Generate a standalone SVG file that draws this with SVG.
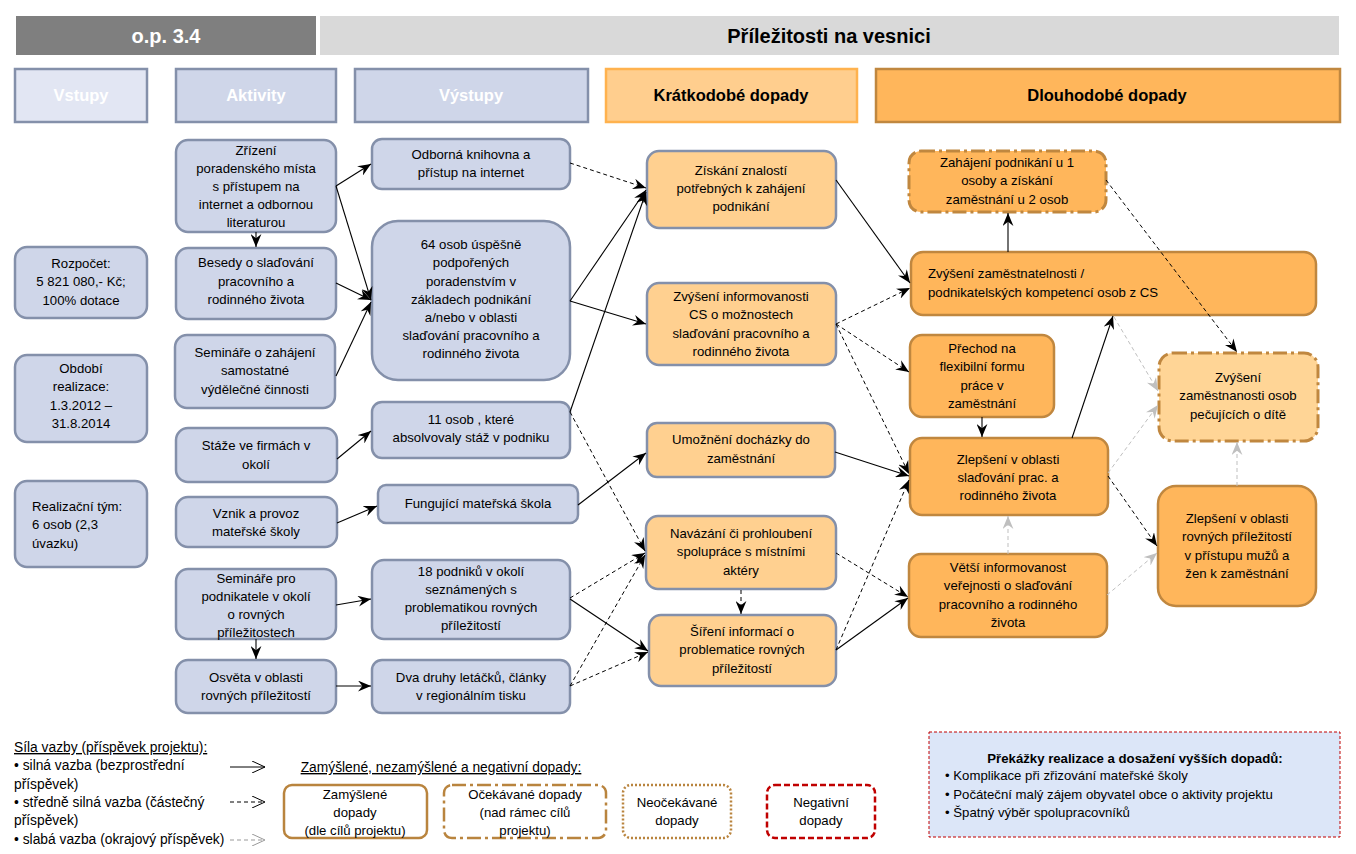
<svg xmlns="http://www.w3.org/2000/svg" width="1356" height="854" viewBox="0 0 1356 854">
<defs>
<style>
text{font-family:"Liberation Sans",Arial,sans-serif;font-size:13.2px;fill:#000}
.hd{font-weight:bold;font-size:16.5px;fill:#fff}
.hk{font-weight:bold;font-size:16.5px;fill:#000}
.tt{font-weight:bold;font-size:20px}
.m{text-anchor:middle}
.act{fill:#CFD6E9;stroke:#8490AA;stroke-width:2.5}
.st{fill:#FFD090;stroke:#8490AA;stroke-width:2.5}
.lt{fill:#FFB65B;stroke:#C0873F;stroke-width:2.5}
.ltx{fill:#FFB65B;stroke:#C0873F;stroke-width:3;stroke-dasharray:14,4,3,4}
.lt2{fill:#FFD596;stroke:#C0873F;stroke-width:3;stroke-dasharray:14,4,3,4}
.s{stroke:#000;stroke-width:1.1;fill:none;marker-end:url(#ah)}
.d{stroke:#000;stroke-width:1;fill:none;stroke-dasharray:4,3;marker-end:url(#ah)}
.w{stroke:#BFBFBF;stroke-width:1;fill:none;stroke-dasharray:4,3;marker-end:url(#ahg)}
.lg{font-size:13.8px}
</style>
<marker id="ah" viewBox="0 0 12 10" refX="12" refY="5" markerWidth="13" markerHeight="11" markerUnits="userSpaceOnUse" orient="auto"><path d="M0,0 L12,5 L0,10 L4,5 z" fill="#000"/></marker>
<marker id="ahg" viewBox="0 0 12 10" refX="12" refY="5" markerWidth="13" markerHeight="11" markerUnits="userSpaceOnUse" orient="auto"><path d="M0,0 L12,5 L0,10 L4,5 z" fill="#BFBFBF"/></marker>
<marker id="ov" viewBox="0 0 14 12" refX="13" refY="6" markerWidth="14" markerHeight="12" markerUnits="userSpaceOnUse" orient="auto"><path d="M0,0 L13,6 L0,12" fill="none" stroke="#000" stroke-width="1"/></marker>
<marker id="ovg" viewBox="0 0 14 12" refX="13" refY="6" markerWidth="14" markerHeight="12" markerUnits="userSpaceOnUse" orient="auto"><path d="M0,0 L13,6 L0,12" fill="none" stroke="#999" stroke-width="1"/></marker>
</defs>
<rect width="1356" height="854" fill="#fff"/>

<g id="header">
<rect x="16" y="16" width="300" height="39" fill="#7F7F7F"/>
<text x="166" y="43" class="hd m" style="font-size:20px">o.p. 3.4</text>
<rect x="320" y="16" width="1019" height="39" fill="#D9D9D9"/>
<text x="829" y="43" class="tt m">Příležitosti na vesnici</text>
</g>

<g id="col-headers">
<rect x="15" y="69" width="132" height="53" fill="#E2E6F3" stroke="#8490AA" stroke-width="2.5"/>
<text x="81" y="101" class="hd m">Vstupy</text>
<rect x="176" y="69" width="160" height="53" fill="#CFD6E9" stroke="#8490AA" stroke-width="2.5"/>
<text x="256" y="101" class="hd m">Aktivity</text>
<rect x="355" y="69" width="233" height="53" fill="#CFD6E9" stroke="#8490AA" stroke-width="2.5"/>
<text x="471" y="101" class="hd m">Výstupy</text>
<rect x="606" y="69" width="251" height="53" fill="#FFCE8E" stroke="#FFB24E" stroke-width="2.5"/>
<text x="731" y="101" class="hk m">Krátkodobé dopady</text>
<rect x="876" y="69" width="464" height="53" fill="#FFB65B" stroke="#C0873F" stroke-width="2.5"/>
<text x="1107" y="101" class="hk m">Dlouhodobé dopady</text>
</g>

<g id="in1"><rect x="15" y="247" width="132" height="71" rx="12" class="act"/>
<text class="m" x="81" y="268">Rozpočet:</text><text class="m" x="81" y="286">5 821 080,- Kč;</text><text class="m" x="81" y="305">100% dotace</text></g>
<g id="in2"><rect x="15" y="355" width="132" height="87" rx="12" class="act"/>
<text class="m" x="81" y="373">Období</text><text class="m" x="81" y="391">realizace:</text><text class="m" x="81" y="410">1.3.2012  –</text><text class="m" x="81" y="428">31.8.2014</text></g>
<g id="in3"><rect x="15" y="481" width="132" height="86" rx="12" class="act"/>
<text x="32" y="511">Realizační tým:</text><text x="32" y="529">6 osob (2,3</text><text x="32" y="548">úvazku)</text></g>

<g id="a1"><rect x="176" y="140" width="160" height="92" rx="12" class="act"/>
<text class="m" x="256" y="155">Zřízení</text><text class="m" x="256" y="173">poradenského místa</text><text class="m" x="256" y="191">s přístupem na</text><text class="m" x="256" y="209">internet a odbornou</text><text class="m" x="256" y="227">literaturou</text></g>
<g id="a2"><rect x="176" y="248" width="160" height="71" rx="12" class="act"/>
<text class="m" x="256" y="267">Besedy o slaďování</text><text class="m" x="256" y="286">pracovního a</text><text class="m" x="256" y="304">rodinného života</text></g>
<g id="a3"><rect x="175" y="335" width="160" height="73" rx="12" class="act"/>
<text class="m" x="255" y="357">Semináře o zahájení</text><text class="m" x="255" y="375">samostatné</text><text class="m" x="255" y="394">výdělečné činnosti</text></g>
<g id="a4"><rect x="176" y="428" width="161" height="54" rx="12" class="act"/>
<text class="m" x="256" y="450">Stáže ve firmách v</text><text class="m" x="256" y="469">okolí</text></g>
<g id="a5"><rect x="176" y="497" width="161" height="50" rx="12" class="act"/>
<text class="m" x="256" y="518">Vznik a provoz</text><text class="m" x="256" y="536">mateřské školy</text></g>
<g id="a6"><rect x="176" y="569" width="160" height="70" rx="12" class="act"/>
<text class="m" x="256" y="583">Semináře pro</text><text class="m" x="256" y="601">podnikatele v okolí</text><text class="m" x="256" y="619">o rovných</text><text class="m" x="256" y="637">příležitostech</text></g>
<g id="a7"><rect x="176" y="660" width="160" height="53" rx="12" class="act"/>
<text class="m" x="256" y="682">Osvěta v oblasti</text><text class="m" x="256" y="700">rovných příležitostí</text></g>

<g id="o1"><rect x="372" y="139" width="198" height="50" rx="10" class="act"/>
<text class="m" x="471" y="159">Odborná knihovna a</text><text class="m" x="471" y="177">přístup na internet</text></g>
<g id="o2"><rect x="372" y="221" width="198" height="159" rx="26" class="act"/>
<text class="m" x="471" y="249">64 osob úspěšně</text><text class="m" x="471" y="267">podpořených</text><text class="m" x="471" y="286">poradenstvím v</text><text class="m" x="471" y="304">základech podnikání</text><text class="m" x="471" y="322">a/nebo v oblasti</text><text class="m" x="471" y="340">slaďování  pracovního a</text><text class="m" x="471" y="358">rodinného života</text></g>
<g id="o3"><rect x="372" y="402" width="198" height="56" rx="10" class="act"/>
<text class="m" x="471" y="424">11 osob , které</text><text class="m" x="471" y="442">absolvovaly stáž v podniku</text></g>
<g id="o4"><rect x="378" y="485" width="200" height="38" rx="8" class="act"/>
<text class="m" x="478" y="508">Fungující mateřská škola</text></g>
<g id="o5"><rect x="372" y="560" width="198" height="79" rx="12" class="act"/>
<text class="m" x="471" y="576">18 podniků v okolí</text><text class="m" x="471" y="594">seznámených s</text><text class="m" x="471" y="612">problematikou rovných</text><text class="m" x="471" y="630">příležitostí</text></g>
<g id="o6"><rect x="372" y="660" width="198" height="53" rx="10" class="act"/>
<text class="m" x="471" y="682">Dva druhy letáčků, články</text><text class="m" x="471" y="700">v regionálním tisku</text></g>

<g id="s1"><rect x="647" y="151" width="189" height="77" rx="12" class="st"/>
<text class="m" x="741" y="175">Získání  znalostí</text><text class="m" x="741" y="193">potřebných k zahájení</text><text class="m" x="741" y="211">podnikání</text></g>
<g id="s2"><rect x="647" y="283" width="189" height="82" rx="12" class="st"/>
<text class="m" x="741" y="301">Zvýšení informovanosti</text><text class="m" x="741" y="319">CS o možnostech</text><text class="m" x="741" y="338">slaďování pracovního  a</text><text class="m" x="741" y="356">rodinného života</text></g>
<g id="s3"><rect x="647" y="423" width="188" height="54" rx="10" class="st"/>
<text class="m" x="741" y="444">Umožnění docházky do</text><text class="m" x="741" y="463">zaměstnání</text></g>
<g id="s4"><rect x="646" y="516" width="190" height="73" rx="12" class="st"/>
<text class="m" x="741" y="538">Navázání či prohloubení</text><text class="m" x="741" y="556">spolupráce s místními</text><text class="m" x="741" y="575">aktéry</text></g>
<g id="s5"><rect x="649" y="615" width="187" height="71" rx="12" class="st"/>
<text class="m" x="742" y="636">Šíření informací o</text><text class="m" x="742" y="654">problematice rovných</text><text class="m" x="742" y="673">příležitostí</text></g>

<g id="l1"><rect x="909" y="151" width="197" height="61" rx="12" class="ltx"/>
<text class="m" x="1007" y="167">Zahájení podnikání u 1</text><text class="m" x="1007" y="185">osoby a získání</text><text class="m" x="1007" y="204">zaměstnání u 2 osob</text></g>
<g id="l2"><rect x="911" y="252" width="405" height="63" rx="12" class="lt"/>
<text x="928" y="278">Zvýšení zaměstnatelnosti /</text><text x="928" y="297">podnikatelských kompetencí osob z CS</text></g>
<g id="l3"><rect x="910" y="335" width="144" height="82" rx="12" class="lt"/>
<text class="m" x="982" y="353">Přechod na</text><text class="m" x="982" y="371">flexibilní formu</text><text class="m" x="982" y="390">práce v</text><text class="m" x="982" y="408">zaměstnání</text></g>
<g id="l4"><rect x="910" y="438" width="198" height="77" rx="12" class="lt"/>
<text class="m" x="1008" y="464">Zlepšení v oblasti</text><text class="m" x="1008" y="482">slaďování prac. a</text><text class="m" x="1008" y="500">rodinného života</text></g>
<g id="l5"><rect x="909" y="554" width="198" height="83" rx="12" class="lt"/>
<text class="m" x="1008" y="572">Větší informovanost</text><text class="m" x="1008" y="590">veřejnosti o slaďování</text><text class="m" x="1008" y="609">pracovního a rodinného</text><text class="m" x="1008" y="627">života</text></g>
<g id="l6"><rect x="1159" y="353" width="159" height="88" rx="14" class="lt2"/>
<text class="m" x="1238" y="382">Zvýšení</text><text class="m" x="1238" y="400">zaměstnanosti osob</text><text class="m" x="1238" y="419">pečujících o dítě</text></g>
<g id="l7"><rect x="1158" y="486" width="158" height="120" rx="18" class="lt"/>
<text class="m" x="1237" y="523">Zlepšení v oblasti</text><text class="m" x="1237" y="541">rovných příležitostí</text><text class="m" x="1237" y="560">v přístupu mužů a</text><text class="m" x="1237" y="578">žen k zaměstnání</text></g>

<g id="connectors">
<line class="s" x1="256" y1="232" x2="256" y2="247"/>
<line class="s" x1="256" y1="639" x2="256" y2="659"/>
<line class="s" x1="336" y1="186" x2="371" y2="164"/>
<line class="s" x1="336" y1="186" x2="371" y2="300"/>
<line class="s" x1="336" y1="283" x2="371" y2="300"/>
<line class="s" x1="336" y1="376" x2="371" y2="302"/>
<line class="s" x1="337" y1="459" x2="371" y2="431"/>
<line class="s" x1="337" y1="523" x2="377" y2="506"/>
<line class="s" x1="336" y1="605" x2="371" y2="599"/>
<line class="s" x1="336" y1="686" x2="371" y2="686"/>
<line class="s" x1="570" y1="301" x2="646" y2="190"/>
<line class="s" x1="570" y1="301" x2="646" y2="324"/>
<line class="s" x1="570" y1="412" x2="646" y2="192"/>
<line class="s" x1="578" y1="505" x2="646" y2="453"/>
<line class="s" x1="570" y1="599" x2="648" y2="651"/>
<line class="s" x1="836" y1="180" x2="910" y2="283"/>
<line class="s" x1="835" y1="452" x2="909" y2="476"/>
<line class="s" x1="836" y1="650" x2="908" y2="598"/>
<line class="s" x1="1008" y1="252" x2="1008" y2="213"/>
<line class="s" x1="982" y1="417" x2="982" y2="437"/>
<line class="s" x1="1072" y1="438" x2="1113" y2="316"/>

<line class="d" x1="570" y1="163" x2="646" y2="188"/>
<line class="d" x1="836" y1="324" x2="910" y2="288"/>
<line class="d" x1="836" y1="324" x2="909" y2="372"/>
<line class="d" x1="836" y1="324" x2="909" y2="474"/>
<line class="d" x1="570" y1="412" x2="645" y2="551"/>
<line class="d" x1="570" y1="598" x2="645" y2="553"/>
<line class="d" x1="570" y1="686" x2="645" y2="555"/>
<line class="d" x1="570" y1="686" x2="648" y2="652"/>
<line class="d" x1="741" y1="590" x2="741" y2="614"/>
<line class="d" x1="836" y1="553" x2="908" y2="597"/>
<line class="d" x1="836" y1="650" x2="909" y2="480"/>
<line class="d" x1="1106" y1="180" x2="1237" y2="352"/>
<line class="d" x1="1108" y1="476" x2="1157" y2="546"/>

<line class="w" x1="1114" y1="317" x2="1158" y2="391"/>
<line class="w" x1="1108" y1="473" x2="1158" y2="405"/>
<line class="w" x1="1237" y1="486" x2="1237" y2="442"/>
<line class="w" x1="1008" y1="554" x2="1008" y2="516"/>
<line class="w" x1="1107" y1="595" x2="1157" y2="553"/>
</g>

<g id="legend-strength">
<text x="14" y="752" class="lg" text-decoration="underline">Síla vazby (příspěvek projektu):</text>
<text x="14" y="770" class="lg">• silná vazba (bezprostřední</text>
<text x="14" y="789" class="lg">příspěvek)</text>
<text x="14" y="807" class="lg">• středně silná vazba (částečný</text>
<text x="14" y="825" class="lg">příspěvek)</text>
<text x="14" y="844" class="lg">• slabá vazba (okrajový příspěvek)</text>
<line x1="230" y1="767" x2="265" y2="767" stroke="#000" stroke-width="1" marker-end="url(#ov)"/>
<line x1="230" y1="802" x2="265" y2="802" stroke="#000" stroke-width="1" stroke-dasharray="4,3" marker-end="url(#ov)"/>
<line x1="230" y1="840" x2="265" y2="840" stroke="#999" stroke-width="1" stroke-dasharray="4,3" marker-end="url(#ovg)"/>
</g>

<g id="legend-types">
<text x="441" y="772" class="m lg" text-decoration="underline">Zamýšlené, nezamýšlené a negativní dopady:</text>
<rect x="284" y="785" width="143" height="53" rx="8" fill="#fff" stroke="#B9843E" stroke-width="2.5"/>
<text class="m" x="355" y="799">Zamýšlené</text><text class="m" x="355" y="817">dopady</text><text class="m" x="355" y="835">(dle cílů projektu)</text>
<rect x="444" y="785" width="162" height="53" rx="8" fill="#fff" stroke="#B9843E" stroke-width="2.5" stroke-dasharray="14,4,3,4"/>
<text class="m" x="525" y="799">Očekávané dopady</text><text class="m" x="525" y="817">(nad rámec  cílů</text><text class="m" x="525" y="835">projektu)</text>
<rect x="623" y="785" width="108" height="53" rx="8" fill="#fff" stroke="#B9843E" stroke-width="2.5" stroke-dasharray="2,2"/>
<text class="m" x="677" y="807">Neočekávané</text><text class="m" x="677" y="825">dopady</text>
<rect x="767" y="785" width="108" height="53" rx="8" fill="#fff" stroke="#C00000" stroke-width="2.5" stroke-dasharray="6,3"/>
<text class="m" x="821" y="807">Negativní</text><text class="m" x="821" y="825">dopady</text>
</g>

<g id="obstacles">
<rect x="929" y="732" width="411" height="105" fill="#DCE6F8" stroke="#C00000" stroke-width="1" stroke-dasharray="3,2"/>
<text x="1135" y="763" class="m" font-weight="bold">Překážky realizace a dosažení vyšších dopadů:</text>
<text x="945" y="780">• Komplikace při zřizování mateřské školy</text>
<text x="945" y="799">• Počáteční malý zájem obyvatel obce o aktivity projektu</text>
<text x="945" y="817">• Špatný výběr spolupracovníků</text>
</g>
</svg>
